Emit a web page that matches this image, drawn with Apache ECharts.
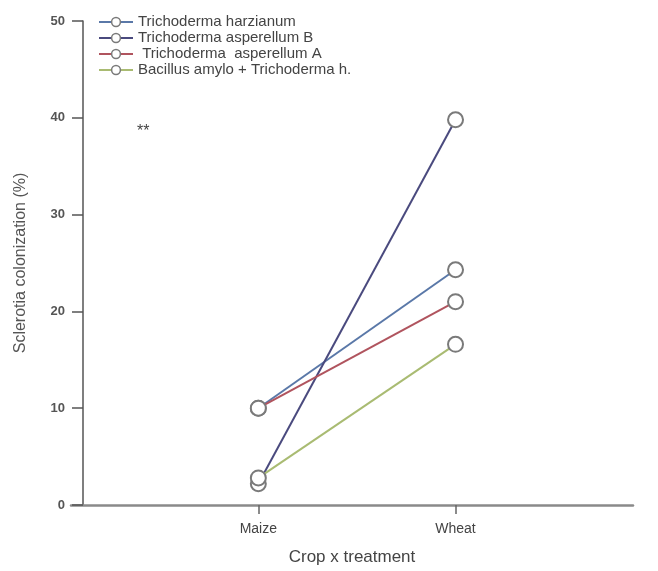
<!DOCTYPE html>
<html>
<head>
<meta charset="utf-8">
<script src="https://cdn.jsdelivr.net/npm/echarts@6/dist/echarts.min.js"></script>
<style>
  html, body { margin: 0; padding: 0; background: #fff; }
  #chart { width: 658px; height: 571px; }
</style>
</head>
<body>
<div id="chart"></div>
<script>
// Crops on the x axis (placed at positions 1 and 2 of a value axis)
const crops = ['Maize', 'Wheat'];

// Sclerotia colonization (%) per treatment, one value per crop
const seriesNames = [
  'Trichoderma harzianum',
  'Trichoderma asperellum B',
  ' Trichoderma  asperellum A',
  'Bacillus amylo + Trichoderma h.'
];
const harzianum = [10.0, 24.3];
const asperellumB = [2.2, 39.8];
const asperellumA = [10.0, 21.0];
const bacillusTricho = [2.8, 16.6];

const yTicks = [0, 10, 20, 30, 40, 50];

const lineColors = ['#5a78a8', '#4a4a7e', '#b0545e', '#a9bb72'];
const values = [harzianum, asperellumB, asperellumA, bacillusTricho];

const FONT = 'Liberation Sans, Arial, sans-serif';

const chart = echarts.init(document.getElementById('chart'));

const series = values.map((vals, i) => ({
  name: seriesNames[i],
  type: 'line',
  data: vals.map((v, k) => [k + 1, v]),
  symbol: 'circle',
  symbolSize: 15,
  showSymbol: true,
  color: lineColors[i],
  lineStyle: { color: lineColors[i], width: 2 },
  itemStyle: { color: '#ffffff', borderColor: '#7a7a7a', borderWidth: 2 },
  emphasis: { disabled: true },
  z: 2 + i
}));

chart.setOption({
  animation: false,
  backgroundColor: '#ffffff',
  grid: { left: 71, top: 21, width: 562, height: 489, containLabel: false },
  legend: {
    left: 93,
    top: 9,
    orient: 'vertical',
    itemGap: 0,
    itemWidth: 34,
    itemHeight: 11,
    textStyle: { color: '#444', fontSize: 15, lineHeight: 16, fontFamily: FONT },
    data: seriesNames.map((n, i) => ({
      name: n,
      itemStyle: { color: '#ffffff', borderColor: '#7a7a7a', borderWidth: 1.5 },
      lineStyle: { color: lineColors[i], width: 2 }
    }))
  },
  xAxis: {
    type: 'value',
    min: 0.05,
    max: 2.9,
    name: 'Crop x treatment',
    nameLocation: 'middle',
    nameGap: 44,
    nameTextStyle: { color: '#444', fontSize: 17, fontFamily: FONT },
    splitLine: { show: false },
    axisLine: { onZero: false, lineStyle: { color: '#8a8a8a', width: 2.5 } },
    axisTick: { show: true, customValues: [1, 2], length: 9, lineStyle: { color: '#666', width: 1.5 } },
    axisLabel: {
      customValues: [1, 2],
      formatter: v => crops[Math.round(v) - 1] || '',
      color: '#444',
      fontSize: 14,
      margin: 17,
      fontFamily: FONT
    }
  },
  yAxis: {
    type: 'value',
    min: 0,
    max: 50,
    interval: 10,
    offset: -12,
    name: 'Sclerotia colonization (%)',
    nameLocation: 'middle',
    nameGap: 54,
    nameTextStyle: { color: '#555', fontSize: 16, fontFamily: FONT },
    splitLine: { show: false },
    axisLine: { show: true, lineStyle: { color: '#555', width: 1.5 } },
    axisTick: { show: true, length: 11, lineStyle: { color: '#555', width: 1.5 } },
    axisLabel: {
      color: '#555',
      fontSize: 13,
      margin: 18,
      fontWeight: 'bold',
      fontFamily: FONT,
      formatter: v => (yTicks.indexOf(v) >= 0 ? String(v) : '')
    }
  },
  graphic: [{
    type: 'text',
    left: 137,
    top: 124,
    style: { text: '**', fill: '#444', fontSize: 16, fontFamily: FONT }
  }],
  series: series
});
</script>
</body>
</html>
